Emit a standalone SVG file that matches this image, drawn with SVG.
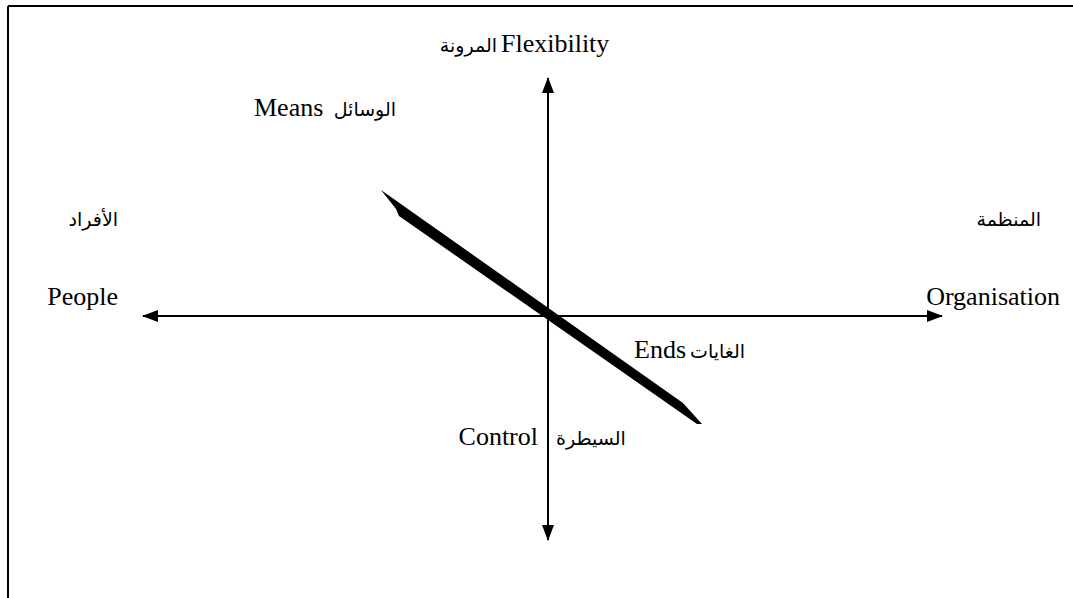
<svg xmlns="http://www.w3.org/2000/svg" width="1073" height="598" viewBox="0 0 1073 598">
<style>
.t{font-family:"Liberation Serif","Times New Roman",serif;font-size:26px;fill:#000}
.a{font-family:"DejaVu Sans","Liberation Serif",sans-serif;font-size:19px;fill:#000}
.ax{stroke:#000;stroke-width:2;fill:none}
</style>
<defs>
<marker id="ah" viewBox="0 0 16 12" refX="15" refY="6" markerWidth="16" markerHeight="12" markerUnits="userSpaceOnUse" orient="auto-start-reverse">
<path d="M0,0 L16,6 L0,12 Z" fill="#000"/>
</marker>
</defs>
<rect width="1073" height="598" fill="#fff"/>
<g id="frame">
<line x1="8" y1="6" x2="1073" y2="6" stroke="#000" stroke-width="2"/>
<line x1="8" y1="6" x2="8" y2="598" stroke="#000" stroke-width="2"/>
</g>
<g id="connectors">
<line class="ax" x1="143" y1="316" x2="942" y2="316" marker-start="url(#ah)" marker-end="url(#ah)"/>
<line class="ax" x1="548" y1="78" x2="548" y2="540" marker-start="url(#ah)" marker-end="url(#ah)"/>
<polygon points="381,190 683,403 702,424 697,424 399,216 396,209" fill="#000"/>
</g>
<g id="flexibility">
<text class="a" x="497" y="52" text-anchor="end">المرونة</text>
<text class="t" x="501" y="52">Flexibility</text>
</g>
<g id="means">
<text class="t" x="254" y="116">Means</text>
<text class="a" x="396" y="116" text-anchor="end">الوسائل</text>
</g>
<g id="people">
<text class="a" x="118" y="226" text-anchor="end">الأفراد</text>
<text class="t" x="118" y="305" text-anchor="end">People</text>
</g>
<g id="organisation">
<text class="a" x="1041" y="226" text-anchor="end">المنظمة</text>
<text class="t" x="1060" y="305" text-anchor="end">Organisation</text>
</g>
<g id="ends">
<text class="t" x="634" y="358">Ends</text>
<text class="a" x="690" y="358">الغايات</text>
</g>
<g id="control">
<text class="t" x="538" y="445" text-anchor="end">Control</text>
<text class="a" x="556" y="445">السيطرة</text>
</g>
</svg>
